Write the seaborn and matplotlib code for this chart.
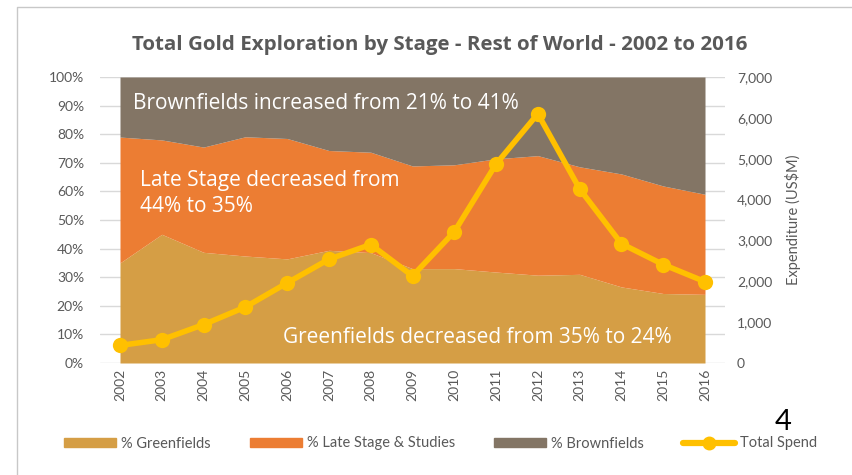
import matplotlib
matplotlib.use("Agg")
import matplotlib.pyplot as plt
import seaborn as sns
import pandas as pd
import numpy as np
from matplotlib.patches import Patch
from matplotlib.lines import Line2D
from matplotlib.ticker import FuncFormatter

years = [2002, 2003, 2004, 2005, 2006, 2007, 2008, 2009, 2010, 2011, 2012, 2013, 2014, 2015, 2016]
greenfields = [35, 45, 38.7, 37.4, 36.4, 39.4, 38.6, 33, 33, 31.8, 30.7, 31, 26.6, 24.3, 24]
green_late_cum = [79, 78, 75.5, 79.1, 78.5, 74.3, 73.7, 68.9, 69.3, 71.4, 72.5, 68.6, 66.1, 61.9, 59]
late_stage = [c - g for c, g in zip(green_late_cum, greenfields)]
brownfields = [100 - c for c in green_late_cum]
total_spend = [430, 570, 940, 1370, 1960, 2540, 2900, 2130, 3210, 4870, 6100, 4260, 2920, 2410, 1990]

C_GREEN = "#D59E45"
C_LATE = "#EC7D33"
C_BROWN = "#837565"
C_LINE = "#FFC000"
C_TEXT = "#595959"
C_GRID = "#D9D9D9"

sns.set_theme(style="white")
plt.rcParams["font.family"] = ["Lato", "DejaVu Sans"]
OS = ["Open Sans", "DejaVu Sans"]

df = pd.DataFrame({"Year": years, "Total Spend": total_spend})

fig = plt.figure(figsize=(8.52, 4.75), dpi=100)
W, H = 852, 475
ax = fig.add_axes([100 / W, (H - 363) / H, (725 - 100) / W, (363 - 77) / H])

ax.stackplot(years, greenfields, late_stage, brownfields,
             colors=[C_GREEN, C_LATE, C_BROWN], linewidth=0, zorder=2)
ax.set_xlim(2002 - 0.4786, 2016 + 0.4786)
ax.set_ylim(0, 100)
ax.set_yticks(np.arange(0, 101, 10))
ax.yaxis.set_major_formatter(FuncFormatter(lambda v, p: f"{int(v)}%"))
ax.set_xticks(years)
ax.set_xticklabels([str(y) for y in years], rotation=90)
ax.grid(axis="y", color=C_GRID, linewidth=1, zorder=0)
ax.set_axisbelow(True)
for s in ax.spines.values():
    s.set_visible(False)
ax.tick_params(axis="both", length=0, labelsize=10, colors=C_TEXT, pad=4)
ax.tick_params(axis="y", pad=11.5)

ax2 = ax.twinx()
sns.lineplot(data=df, x="Year", y="Total Spend", ax=ax2, color=C_LINE, linewidth=4,
             marker="o", markersize=11, markeredgewidth=0, zorder=5)
ax2.set_ylim(0, 7000)
ax2.set_yticks(np.arange(0, 7001, 1000))
ax2.yaxis.set_major_formatter(FuncFormatter(lambda v, p: f"{int(v):,}"))
ax2.set_xlim(2002 - 0.4786, 2016 + 0.4786)
ax2.set_xlabel("")
ax2.set_ylabel("Expenditure (US$M)", color=C_TEXT, fontsize=10.5, labelpad=9)
for s in ax2.spines.values():
    s.set_visible(False)
ax2.tick_params(axis="y", length=0, labelsize=10, colors=C_TEXT, pad=8.6)

ann = dict(color="white", fontsize=15, family=OS, transform=ax.transData, zorder=10)
ax.text(2002.31, 90.7, "Brownfields increased from 21% to 41%", va="center", ha="left", **ann)
ax.text(2002.48, 59.2, "Late Stage decreased from\n44% to 35%", va="center", ha="left",
        linespacing=1.3, **ann)
ax.text(2005.9, 8.76, "Greenfields decreased from 35% to 24%", va="center", ha="left", **ann)

fig.text(132 / W, (H - 45) / H, "Total Gold Exploration by Stage - Rest of World - 2002 to 2016",
         ha="left", va="center", fontsize=14.75, fontweight="bold", color=C_TEXT, family=OS)

fig.text(783 / W, (H - 422) / H, "4", ha="center", va="center", fontsize=21, color="black")

handles = [Patch(color=C_GREEN), Patch(color=C_LATE), Patch(color=C_BROWN),
           Line2D([0], [0], color=C_LINE, linewidth=4.5, marker="o", markersize=9)]
labels = ["% Greenfields", "% Late Stage & Studies", "% Brownfields", "Total Spend"]
fs = 10.5
fpx = fs * 100 / 72
fig.legend(handles, labels, loc="center left", bbox_to_anchor=(64 / W, (H - 443.5) / H),
           borderaxespad=0, borderpad=0,
           ncol=4, frameon=False, fontsize=fs, handlelength=52 / fpx, handleheight=9 / fpx,
           handletextpad=5 / fpx, columnspacing=39 / fpx, labelcolor=C_TEXT)

border = Line2D([17 / W, 17 / W, 1.0], [0, (H - 7) / H, (H - 7) / H],
                transform=fig.transFigure, color="#C8C8C8", linewidth=1)
fig.add_artist(border)

fig.savefig("out.png", dpi=100)
